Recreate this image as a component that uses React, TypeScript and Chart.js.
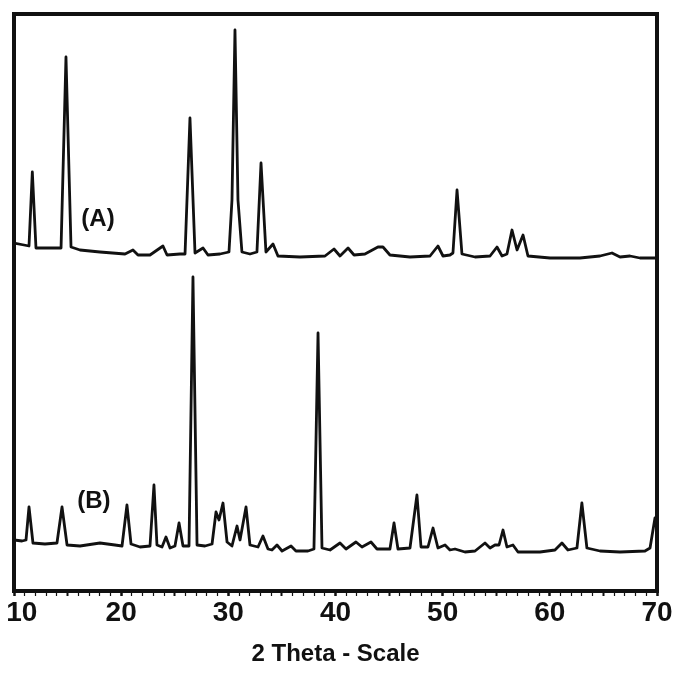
import React, { useEffect, useRef } from "react";
import { Chart, registerables } from "chart.js";

Chart.register(...registerables);

// ---- data ----
const xMin = 10;
const xMax = 70;
const xTickLabels = [10, 20, 30, 40, 50, 60, 70];
const axisTitle = "2 Theta - Scale";
const seriesNames = ["(A)", "(B)"];
const seriesLabelTheta = [17.84, 17.46];
const seriesLabelIntensity = [372, 90];

const aTheta = [
  10.0, 10.93, 11.4, 11.71, 12.05, 13.36, 14.39, 14.85, 15.32, 16.16, 18.02, 20.36,
  21.1, 21.57, 22.69, 23.9, 24.28, 25.49, 25.96, 26.42, 26.89, 27.64, 28.1, 29.22,
  30.06, 30.34, 30.62, 30.9, 31.27, 32.02, 32.67, 33.05, 33.51, 34.17, 34.63, 36.69,
  39.02, 39.86, 40.42, 41.17, 41.73, 42.75, 43.96, 44.43, 45.08, 46.95, 48.82, 49.56,
  50.03, 50.68, 50.96, 51.34, 51.8, 53.02, 54.42, 55.07, 55.54, 56.0, 56.47, 56.94,
  57.5, 57.96, 60.02, 62.81, 64.68, 65.8, 66.55, 67.48, 68.41, 70.0,
];
const aIntensity = [
  348, 346, 345, 419, 343, 343, 343, 534, 344, 341, 339, 337,
  341, 336, 336, 345, 336, 337, 337, 473, 338, 343, 336, 337,
  339, 391, 561, 391, 339, 337, 339, 428, 339, 347, 335, 334,
  335, 342, 335, 343, 336, 337, 344, 344, 336, 334, 335, 345,
  335, 336, 338, 401, 337, 334, 335, 344, 335, 337, 361, 341,
  356, 335, 333, 333, 335, 338, 334, 335, 333, 333,
];

const bTheta = [
  10.0, 10.75, 11.12, 11.4, 11.77, 12.89, 14.01, 14.48, 14.95, 16.16, 18.02, 19.42,
  20.08, 20.54, 20.92, 21.76, 22.69, 23.06, 23.34, 23.81, 24.18, 24.56, 25.02, 25.4,
  25.77, 26.33, 26.7, 27.08, 27.82, 28.48, 28.85, 29.13, 29.5, 29.88, 30.34, 30.81,
  31.09, 31.65, 32.02, 32.77, 33.23, 33.7, 34.07, 34.54, 35.01, 35.85, 36.31, 37.43,
  37.99, 38.37, 38.74, 39.49, 40.42, 40.98, 41.91, 42.47, 43.31, 43.87, 45.08, 45.46,
  45.83, 46.95, 47.6, 47.98, 48.63, 49.1, 49.56, 50.22, 50.68, 51.15, 52.08, 53.02,
  53.95, 54.42, 54.88, 55.26, 55.63, 56.0, 56.56, 57.03, 59.08, 60.48, 61.13, 61.69,
  62.53, 62.99, 63.46, 64.68, 66.55, 68.88, 69.35, 69.81, 70.0,
];
const bIntensity = [
  51, 50, 51, 84, 48, 47, 48, 84, 46, 45, 48, 46,
  45, 86, 47, 44, 45, 106, 46, 44, 54, 43, 45, 68,
  45, 45, 314, 46, 45, 47, 79, 71, 88, 49, 45, 65,
  51, 84, 46, 44, 55, 42, 41, 46, 40, 45, 40, 40,
  42, 258, 43, 41, 48, 42, 49, 44, 49, 42, 42, 68,
  42, 43, 96, 44, 44, 63, 43, 46, 41, 42, 39, 40,
  48, 43, 46, 46, 61, 44, 46, 39, 39, 41, 48, 41,
  43, 88, 43, 40, 39, 40, 43, 73, 71,
];

const FONT = '"Liberation Sans", Arial, Helvetica, sans-serif';
const INK = "#111111";

const framePlugin = {
  id: "frameAndLabels",
  afterDatasetsDraw(chart: any) {
    const { ctx, chartArea, scales } = chart;
    ctx.save();
    ctx.strokeStyle = INK;
    ctx.lineWidth = 4;
    ctx.strokeRect(
      chartArea.left,
      chartArea.top,
      chartArea.right - chartArea.left,
      chartArea.bottom - chartArea.top
    );
    ctx.fillStyle = INK;
    ctx.font = `bold 24px ${FONT}`;
    ctx.textAlign = "center";
    ctx.textBaseline = "middle";
    seriesNames.forEach((name, i) => {
      const x = scales.x.getPixelForValue(seriesLabelTheta[i]);
      const y = scales.y.getPixelForValue(seriesLabelIntensity[i]);
      ctx.fillText(name, x, y);
    });
    ctx.restore();
  },
};

export default function App() {
  const canvasRef = useRef<HTMLCanvasElement | null>(null);

  useEffect(() => {
    const canvas = canvasRef.current;
    if (!canvas) return;
    const toPoints = (xs: number[], ys: number[]) => xs.map((x, i) => ({ x, y: ys[i] }));
    const lineStyle = {
      borderColor: INK,
      borderWidth: 2.8,
      borderJoinStyle: "round",
      borderCapStyle: "round",
      pointRadius: 0,
      tension: 0,
      fill: false,
    };
    const chart = new Chart(canvas, {
      type: "line",
      data: {
        datasets: [
          { label: "A", data: toPoints(aTheta, aIntensity), ...lineStyle },
          { label: "B", data: toPoints(bTheta, bIntensity), ...lineStyle },
        ],
      },
      options: {
        animation: false,
        responsive: false,
        devicePixelRatio: 1,
        layout: { padding: { left: 14, right: 19, top: 14, bottom: 0 } },
        plugins: {
          legend: { display: false },
          tooltip: { enabled: false },
        },
        scales: {
          x: {
            type: "linear",
            min: xMin,
            max: xMax,
            afterFit(scale: any) {
              scale.height = 88;
              scale.paddingLeft = 0;
              scale.paddingRight = 0;
            },
            border: { display: false },
            grid: {
              display: true,
              drawOnChartArea: false,
              drawTicks: true,
              tickLength: 5,
              tickColor: INK,
              tickWidth: (ctx: any) => {
                const v = ctx.tick ? ctx.tick.value : 0;
                return v % 10 === 0 ? 2.5 : v % 5 === 0 ? 2 : 1.2;
              },
            },
            ticks: {
              stepSize: 1,
              autoSkip: false,
              maxRotation: 0,
              minRotation: 0,
              padding: 0,
              color: INK,
              font: { family: FONT, size: 28, weight: "bold" },
              callback: (v: any) => {
                const n = Number(v);
                if (!xTickLabels.includes(n)) return "";
                return n === xMin ? "\u00a0\u00a0" + String(n) : String(n);
              },
            },
            title: {
              display: true,
              text: axisTitle,
              color: INK,
              font: { family: FONT, size: 24, weight: "bold" },
              padding: { top: 0, bottom: 10 },
            },
          },
          y: {
            type: "linear",
            display: false,
            min: 0,
            max: 577,
          },
        },
      },
      plugins: [framePlugin],
    } as any);
    return () => chart.destroy();
  }, []);

  return (
    <div style={{ position: "absolute", left: 0, top: 0, width: 676, height: 679, background: "#fff" }}>
      <canvas ref={canvasRef} width={676} height={679} style={{ display: "block", width: 676, height: 679 }} />
    </div>
  );
}
